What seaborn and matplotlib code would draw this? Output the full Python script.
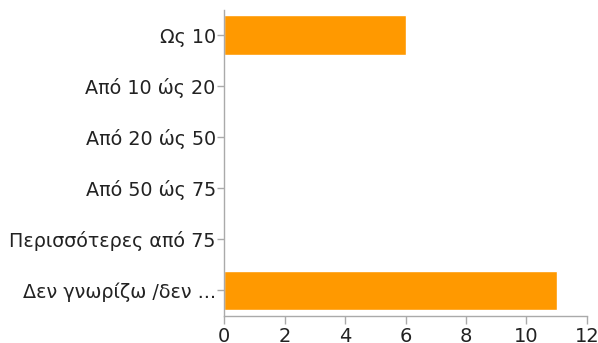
import matplotlib
matplotlib.use("Agg")
import matplotlib.pyplot as plt
import seaborn as sns
import pandas as pd

categories = ["Ως 10", "Από 10 ώς 20", "Από 20 ώς 50", "Από 50 ώς 75",
              "Περισσότερες από 75", "Δεν γνωρίζω /δεν ..."]
counts = [6, 0, 0, 0, 0, 11]
x_ticks = [0, 2, 4, 6, 8, 10, 12]

sns.set_theme(style="white")
plt.rcParams["font.family"] = ["DejaVu Sans"]

df = pd.DataFrame({"category": categories, "count": counts})

fig = plt.figure(figsize=(5.98, 3.43), dpi=100)
ax = fig.add_axes([0.3746, 0.0787, 0.607, 0.8935])

sns.barplot(data=df, x="count", y="category", order=categories,
            color="#FF9900", saturation=1, width=0.78, ax=ax)

ax.set_xlim(0, 12)
ax.set_ylim(len(categories) - 0.5, -0.5)
ax.set_xticks(x_ticks)
ax.set_xlabel("")
ax.set_ylabel("")

for side in ["top", "right"]:
    ax.spines[side].set_visible(False)
for side in ["left", "bottom"]:
    ax.spines[side].set_color("#AAAAAA")
    ax.spines[side].set_linewidth(1)

ax.tick_params(axis="y", length=5, color="#AAAAAA", width=1,
               labelsize=13.8, labelcolor="#222222", pad=1, left=True)
ax.tick_params(axis="x", length=6, color="#AAAAAA", width=1,
               labelsize=14, labelcolor="#222222", pad=2, bottom=True)

fig.savefig("out.png", dpi=100)
